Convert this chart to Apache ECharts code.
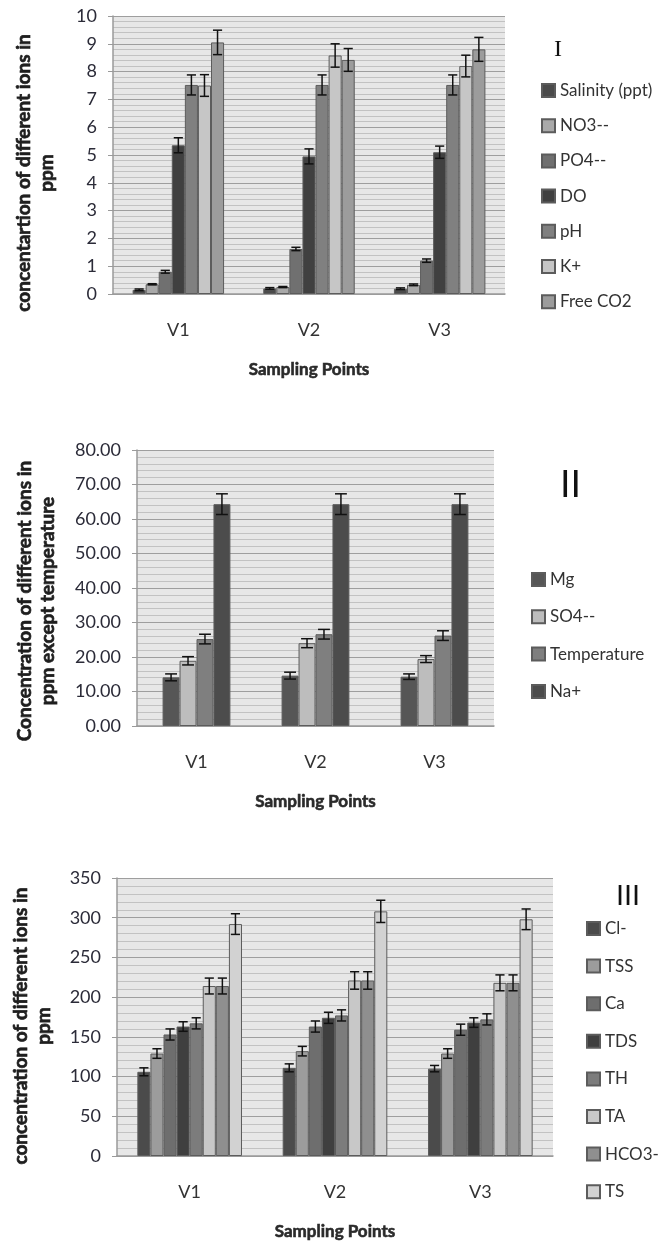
<!DOCTYPE html>
<html>
<head>
<meta charset="utf-8">
<script src="https://cdn.jsdelivr.net/npm/echarts@6/dist/echarts.min.js"></script>
<style>
  html, body { margin: 0; padding: 0; background: #fff; }
  #main { width: 658px; height: 1241px; }
</style>
</head>
<body>
<div id="main"></div>
<script>
// 采样点
const categories = ['V1', 'V2', 'V3'];

// 图 I
const p1Names = ['Salinity (ppt)', 'NO3--', 'PO4--', 'DO', 'pH', 'K+', 'Free CO2'];
const p1Colors = ['#4b4b4b', '#a9a9a9', '#707070', '#404040', '#808080', '#c6c6c6', '#9c9c9c'];
const p1Values = [
  [0.15, 0.2, 0.19],
  [0.35, 0.25, 0.33],
  [0.8, 1.62, 1.2],
  [5.35, 4.95, 5.1],
  [7.52, 7.52, 7.52],
  [7.5, 8.58, 8.2],
  [9.05, 8.42, 8.8]
];
const p1Errors = [
  [0.03, 0.03, 0.03],
  [0.02, 0.02, 0.03],
  [0.05, 0.06, 0.06],
  [0.27, 0.27, 0.22],
  [0.36, 0.36, 0.36],
  [0.39, 0.42, 0.39],
  [0.44, 0.41, 0.43]
];

// 图 II
const p2Names = ['Mg', 'SO4--', 'Temperature', 'Na+'];
const p2Colors = ['#565656', '#bdbdbd', '#7f7f7f', '#4c4c4c'];
const p2Values = [
  [14.1, 14.6, 14.3],
  [18.9, 24.0, 19.4],
  [25.2, 26.6, 26.2],
  [64.3, 64.3, 64.3]
];
const p2Errors = [
  [1.0, 1.0, 0.8],
  [1.2, 1.3, 1.0],
  [1.4, 1.4, 1.4],
  [3.0, 3.0, 3.0]
];

// 图 III
const p3Names = ['Cl-', 'TSS', 'Ca', 'TDS', 'TH', 'TA', 'HCO3-', 'TS'];
const p3Colors = ['#4b4b4b', '#9c9c9c', '#6e6e6e', '#3f3f3f', '#7c7c7c', '#c8c8c8', '#8f8f8f', '#d2d2d2'];
const p3Values = [
  [106, 111, 110],
  [129, 132, 129],
  [153, 163, 159],
  [163, 174, 168],
  [167, 177, 172],
  [214, 221, 218],
  [214, 221, 218],
  [292, 308, 298]
];
const p3Errors = [
  [5, 5, 4],
  [6, 6, 6],
  [7, 7, 7],
  [6, 7, 6],
  [7, 7, 7],
  [10, 11, 10],
  [10, 11, 10],
  [13, 14, 13]
];

const FONT = 'Lato, "Open Sans", sans-serif';
const chart = echarts.init(document.getElementById('main'));

// 面板布局
const panels = [
  { names: p1Names, colors: p1Colors, values: p1Values, errors: p1Errors, gap: 0.30,
    grid: { left: 113, top: 16, width: 392, height: 278 },
    y: { max: 10, interval: 1, fmt: v => String(v) },
    yName: 'concentartion of different ions in\nppm', yGap: 55, yShift: 36,
    legend: { left: 536, top: 77, itemGap: 18.2 } },
  { names: p2Names, colors: p2Colors, values: p2Values, errors: p2Errors, gap: 0.43,
    grid: { left: 137, top: 450, width: 357, height: 276 },
    y: { max: 80, interval: 10, fmt: v => v.toFixed(2) },
    yName: 'Concentration of different ions in\nppm except temperature', yGap: 78, yShift: 26,
    legend: { left: 526, top: 566, itemGap: 20.3 } },
  { names: p3Names, colors: p3Colors, values: p3Values, errors: p3Errors, gap: 0.28,
    grid: { left: 117, top: 878, width: 436, height: 278 },
    y: { max: 350, interval: 50, fmt: v => String(v) },
    yName: 'concentration of different ions in\nppm', yGap: 62, yShift: 18,
    legend: { left: 581, top: 915, itemGap: 20.6 } }
];

// 误差线
function errorRenderer(idx, n, gap) {
  return function (params, api) {
    const cat = api.value(0);
    const lo = api.coord([cat, api.value(1)]);
    const hi = api.coord([cat, api.value(2)]);
    const band = api.size([1, 0])[0];
    const groupW = band * (1 - gap);
    const barW = groupW / n;
    const x = lo[0] - groupW / 2 + barW * (idx + 0.5);
    const half = Math.min(barW * 0.35, 6);
    const style = { stroke: '#111', lineWidth: 1.5 };
    return {
      type: 'group',
      children: [
        { type: 'line', shape: { x1: x, y1: lo[1], x2: x, y2: hi[1] }, style },
        { type: 'line', shape: { x1: x - half, y1: lo[1], x2: x + half, y2: lo[1] }, style },
        { type: 'line', shape: { x1: x - half, y1: hi[1], x2: x + half, y2: hi[1] }, style }
      ]
    };
  };
}

const grids = [], xAxes = [], yAxes = [], legends = [], series = [];

panels.forEach((p, k) => {
  grids.push(Object.assign({ show: true, backgroundColor: '#e7e7e7', borderWidth: 0,
    outerBoundsMode: 'none', containLabel: false }, p.grid));
  xAxes.push({
    type: 'category', gridIndex: k, data: categories,
    axisLine: { lineStyle: { color: '#9a9a9a', width: 1.5 } },
    axisTick: { show: false },
    axisLabel: { color: '#333', fontSize: 18, fontFamily: FONT, margin: 27 },
    name: 'Sampling Points', nameLocation: 'middle', nameGap: 67,
    nameTextStyle: { color: '#2a2a2a', fontSize: 17, fontWeight: 'bold', fontFamily: FONT,
      textBorderColor: '#2a2a2a', textBorderWidth: 0.6 }
  });
  yAxes.push({
    type: 'value', gridIndex: k, min: 0, max: p.y.max, interval: p.y.interval,
    axisLine: { show: true, lineStyle: { color: '#9a9a9a', width: 1.5 } },
    axisTick: { show: true, length: 5, lineStyle: { color: '#9a9a9a' } },
    axisLabel: { color: '#2b2b38', fontSize: 18, fontFamily: FONT, margin: 16, formatter: p.y.fmt },
    splitLine: { show: true, lineStyle: { color: '#9e9e9e', width: 1.2 } },
    minorTick: { show: true, splitNumber: 5, length: 0 },
    minorSplitLine: { show: true, lineStyle: { color: '#c2c2c2', width: 1 } },
    name: p.yName, nameLocation: 'middle', nameGap: p.yGap, nameRotate: 90,
    nameTextStyle: { color: '#1e1e1e', fontSize: 19, fontWeight: 'bold', fontFamily: FONT,
      lineHeight: 23, padding: [0, p.yShift, 0, 0],
      textBorderColor: '#1e1e1e', textBorderWidth: 0.7 }
  });
  legends.push({
    data: p.names, orient: 'vertical', left: p.legend.left, top: p.legend.top,
    itemGap: p.legend.itemGap, itemWidth: 13, itemHeight: 13, icon: 'rect',
    textStyle: { color: '#333', fontSize: 17, fontFamily: FONT }
  });
  p.names.forEach((name, i) => {
    series.push({
      name: name, type: 'bar', xAxisIndex: k, yAxisIndex: k,
      data: p.values[i], barGap: '0%', barCategoryGap: (p.gap * 100) + '%',
      itemStyle: { color: p.colors[i], borderColor: '#5c5c5c', borderWidth: 1 },
      emphasis: { disabled: true }
    });
  });
  p.names.forEach((name, i) => {
    series.push({
      name: 'err-' + k + '-' + i, type: 'custom', xAxisIndex: k, yAxisIndex: k,
      renderItem: errorRenderer(i, p.names.length, p.gap),
      data: p.values[i].map((v, c) => [c, v - p.errors[i][c], v + p.errors[i][c]]),
      z: 5, silent: true
    });
  });
});

chart.setOption({
  animation: false,
  backgroundColor: '#fff',
  grid: grids,
  xAxis: xAxes,
  yAxis: yAxes,
  legend: legends,
  series: series,
  graphic: [
    { type: 'text', left: 554, top: 38, style: { text: 'I', fontSize: 24, fontFamily: 'serif', fill: '#111' } },
    { type: 'text', left: 560, top: 468, style: { text: 'II', fontSize: 38, fontFamily: 'sans-serif', fontWeight: 'lighter', fill: '#111' } },
    { type: 'text', left: 616, top: 882, style: { text: 'III', fontSize: 29, fontFamily: 'sans-serif', fill: '#111' } }
  ]
});
</script>
</body>
</html>
